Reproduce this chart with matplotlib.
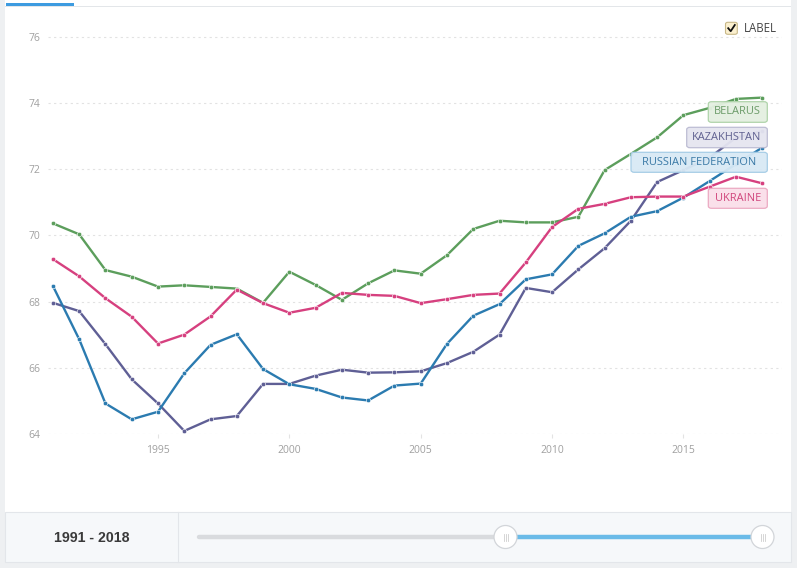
import matplotlib
matplotlib.use("Agg")
import matplotlib.pyplot as plt
from matplotlib.patches import Rectangle, FancyBboxPatch, Circle
from matplotlib.lines import Line2D
from matplotlib.transforms import IdentityTransform

plt.rcParams['font.family'] = ['Open Sans', 'DejaVu Sans']

years = list(range(1991, 2019))
belarus = [70.36, 70.03, 68.95, 68.75, 68.45, 68.49, 68.44, 68.39, 67.96, 68.90,
           68.50, 68.05, 68.55, 68.94, 68.84, 69.40, 70.19, 70.44, 70.39, 70.39,
           70.56, 71.97, 72.46, 72.96, 73.63, 73.85, 74.12, 74.16]
kazakhstan = [67.96, 67.71, 66.71, 65.65, 64.92, 64.09, 64.44, 64.54, 65.51, 65.51,
              65.76, 65.94, 65.85, 65.86, 65.89, 66.14, 66.48, 67.00, 68.41, 68.28,
              68.97, 69.61, 70.44, 71.61, 71.97, 72.35, 72.95, 73.15]
russia = [68.47, 66.86, 64.92, 64.44, 64.67, 65.83, 66.69, 67.01, 65.96, 65.50,
          65.36, 65.10, 65.01, 65.46, 65.52, 66.72, 67.57, 67.92, 68.67, 68.82,
          69.68, 70.06, 70.56, 70.73, 71.14, 71.64, 72.15, 72.65]
ukraine = [69.28, 68.76, 68.10, 67.54, 66.73, 67.00, 67.55, 68.36, 67.95, 67.66,
           67.81, 68.26, 68.20, 68.17, 67.95, 68.07, 68.20, 68.24, 69.18, 70.25,
           70.80, 70.95, 71.15, 71.17, 71.17, 71.47, 71.77, 71.57]

series_names = ["BELARUS", "KAZAKHSTAN", "RUSSIAN FEDERATION", "UKRAINE"]
series_values = [belarus, kazakhstan, russia, ukraine]
line_colors = ['#5c9e5c', '#5f5f95', '#2b7bb0', '#d6407f']
x_ticks = [1995, 2000, 2005, 2010, 2015]
y_ticks = [64, 66, 68, 70, 72, 74, 76]
range_label = "1991 - 2018"

W, H = 797, 568
fig = plt.figure(figsize=(W / 100, H / 100), dpi=100)
fig.patch.set_facecolor('white')


def fx(x):
    return x / W


def fy(y):
    return 1 - y / H


def prect(x0, y0, x1, y1, **kw):
    r = Rectangle((fx(x0), fy(y1)), fx(x1) - fx(x0), fy(y0) - fy(y1),
                  transform=fig.transFigure, **kw)
    fig.add_artist(r)
    return r


# frame decorations
prect(0, 0, 5, 568, facecolor='#eef0f2', edgecolor='none')
prect(791, 0, 797, 568, facecolor='#eef0f2', edgecolor='none')
prect(0, 562, 797, 568, facecolor='#eef0f2', edgecolor='none')
prect(5, 6, 791, 7, facecolor='#e3e6e9', edgecolor='none')
prect(6, 3, 74, 6, facecolor='#3d9be0', edgecolor='none')

# axes
ax_left, ax_right = 48.3, 781.7
ax_top, ax_bottom = 20.0, 433.9
ax = fig.add_axes([fx(ax_left), fy(ax_bottom), fx(ax_right) - fx(ax_left),
                   fy(ax_top) - fy(ax_bottom)])
ax.set_facecolor('none')
ax.set_xlim(1990.825, 2018.74)
ax.set_ylim(64, 64 + (ax_bottom - ax_top) / 33.1)

for vals, col in zip(series_values, line_colors):
    ax.plot(years, vals, color=col, lw=1.7, marker='o', markersize=3.2,
            markeredgecolor='white', markeredgewidth=0.4, solid_capstyle='round',
            zorder=3, clip_on=False)

for s in ax.spines.values():
    s.set_visible(False)
ax.set_yticks(y_ticks)
ax.set_xticks(x_ticks)
ax.set_yticklabels([str(v) for v in y_ticks])
ax.set_xticklabels([str(v) for v in x_ticks])
ax.tick_params(axis='y', length=0, pad=6, labelcolor='#a0a0a0', labelsize=7.5)
ax.tick_params(axis='x', length=3, width=0.8, color='#e3e3e3', pad=5,
               labelcolor='#a0a0a0', labelsize=7.5)
ax.yaxis.grid(True, color='#e2e2e2', linestyle=(0, (2, 3)), lw=0.8)
ax.xaxis.grid(False)
ax.set_axisbelow(True)

# data labels (boxes)
box_specs = [
    (708.3, 101.7, 767.3, 122.3, '#e4f0e1', '#acd2a7', '#6b9b68'),
    (686.7, 127.3, 767.3, 147.7, '#e5e5f0', '#babad2', '#5f6090'),
    (631.0, 152.3, 767.3, 172.3, '#d8e9f5', '#a3cbe5', '#3a79a6'),
    (708.3, 188.3, 767.3, 208.3, '#fadfe9', '#eba7c0', '#d0457c'),
]
for name, (x0, y0, x1, y1, fc, ec, tc) in zip(series_names, box_specs):
    p = FancyBboxPatch((fx(x0), fy(y1)), fx(x1) - fx(x0), fy(y0) - fy(y1),
                       boxstyle='round,pad=0,rounding_size=0.004',
                       transform=fig.transFigure, facecolor=fc, edgecolor=ec,
                       lw=0.9, alpha=0.95, zorder=5)
    fig.add_artist(p)
    fig.text(fx((x0 + x1) / 2), fy((y0 + y1) / 2), name, ha='center', va='center',
             color=tc, fontsize=7.9, zorder=6)

# legend checkbox
cb = FancyBboxPatch((fx(725.5), fy(34.3)), fx(11.8), fy(0) - fy(12),
                    boxstyle='round,pad=0,rounding_size=0.003',
                    transform=fig.transFigure, facecolor='#fbf0cf',
                    edgecolor='#c8b888', lw=0.8)
fig.add_artist(cb)
fig.add_artist(Line2D([fx(728.2), fx(730.7), fx(734.8)], [fy(28.2), fy(31.2), fy(25.0)],
                      transform=fig.transFigure, color='#111111', lw=1.3))
fig.text(fx(743.5), fy(28.0), "LABEL", ha='left', va='center', color='#444444',
         fontsize=8.3)

# bottom range panel
prect(5, 512, 791, 562, facecolor='#f6f8fa', edgecolor='#e3e6ea', lw=0.8)
fig.add_artist(Line2D([fx(178), fx(178)], [fy(512), fy(562)],
                      transform=fig.transFigure, color='#e3e6ea', lw=0.8))
fig.text(fx(91.5), fy(537.5), range_label, ha='center', va='center',
         fontsize=10.2, fontweight='bold', color='#3a3a3a',
         family=['Liberation Sans', 'DejaVu Sans'])
fig.add_artist(Line2D([fx(199), fx(505)], [fy(537), fy(537)],
                      transform=fig.transFigure, color='#d9dbde', lw=3.2,
                      solid_capstyle='round'))
fig.add_artist(Line2D([fx(505), fx(762)], [fy(537), fy(537)],
                      transform=fig.transFigure, color='#6bbbe8', lw=3.2))
for hx in (505.5, 762.5):
    c = Circle((hx, H - 537), 11.5, facecolor='white',
               edgecolor='#d2d5d9', lw=0.9, zorder=10)
    c.set_transform(IdentityTransform())
    fig.add_artist(c)
    for dx in (-2, 0, 2):
        fig.add_artist(Line2D([fx(hx + dx), fx(hx + dx)], [fy(533.5), fy(540.5)],
                              transform=fig.transFigure, color='#cfcfcf',
                              lw=0.6, zorder=11))

fig.savefig("out.png", dpi=100, facecolor='white')
